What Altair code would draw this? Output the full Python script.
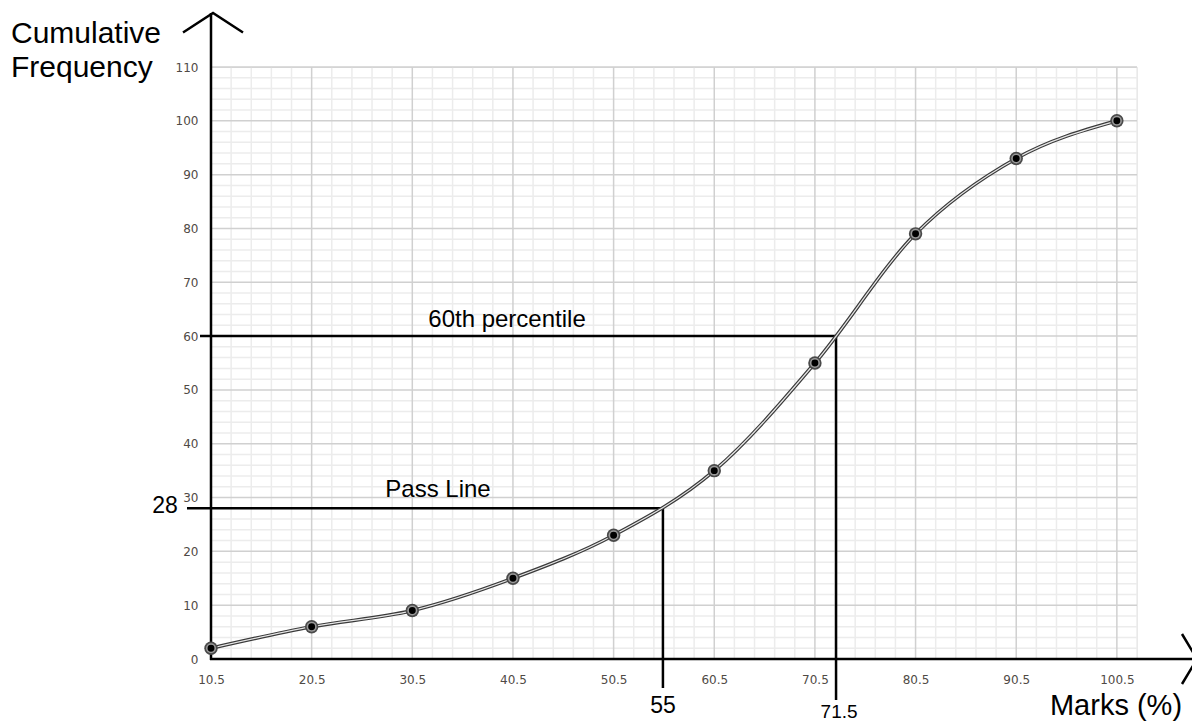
import altair as alt
import pandas as pd
import numpy as np

# ---- data ----
marks = [10.5, 20.5, 30.5, 40.5, 50.5, 60.5, 70.5, 80.5, 90.5, 100.5]
cum_freq = [2, 6, 9, 15, 23, 35, 55, 79, 93, 100]
x_ticks = [10.5, 20.5, 30.5, 40.5, 50.5, 60.5, 70.5, 80.5, 90.5, 100.5]
y_ticks = [0, 10, 20, 30, 40, 50, 60, 70, 80, 90, 100, 110]
pass_freq = 28
pass_mark = 55.4        # where the pass drop-line is drawn
pass_label = "55"
p60_freq = 60
p60_mark = 72.6         # where the 60th percentile drop-line is drawn
p60_label = "71.5"

X_DOMAIN = [10.5, 102.5]
Y_DOMAIN = [0, 110]
W, H = 926, 592

xs = alt.Scale(domain=X_DOMAIN, nice=False, zero=False)
ys = alt.Scale(domain=Y_DOMAIN, nice=False, zero=False)

AX = alt.Axis(values=x_ticks, format=".1f", domain=False, ticks=False, grid=False,
              labelFont="DejaVu Sans", labelFontSize=12, labelColor="#4f4a45",
              labelBaseline="middle", labelPadding=20, labelFlush=False, title=None)
AY = alt.Axis(values=y_ticks, format="d", domain=False, ticks=False, grid=False,
              labelFont="DejaVu Sans", labelFontSize=12, labelColor="#4f4a45",
              labelPadding=13, labelFlush=False, title=None)


def X(field=None, datum=None):
    if datum is not None:
        return alt.X(datum=datum, type="quantitative", scale=xs, axis=AX, title=None)
    return alt.X(field, type="quantitative", scale=xs, axis=AX, title=None)


def Y(field=None, datum=None):
    if datum is not None:
        return alt.Y(datum=datum, type="quantitative", scale=ys, axis=AY, title=None)
    return alt.Y(field, type="quantitative", scale=ys, axis=AY, title=None)


# ---- grid ----
major_x = list(x_ticks)
minor_x = [float(v) for v in np.arange(12.5, 102.6, 2.0) if round((v - 10.5) % 10, 6) != 0]
major_y = [v for v in y_ticks if v > 0]
minor_y = [v for v in range(2, 110, 2) if v % 10 != 0]

vgrid = pd.DataFrame({"x": minor_x + major_x,
                      "kind": ["minor"] * len(minor_x) + ["major"] * len(major_x),
                      "y0": 0, "y1": 110})
hgrid = pd.DataFrame({"y": minor_y + major_y,
                      "kind": ["minor"] * len(minor_y) + ["major"] * len(major_y),
                      "x0": 10.5, "x1": 102.5})


def grid_layers(kind, color, width):
    v = alt.Chart(vgrid[vgrid.kind == kind]).mark_rule(color=color, strokeWidth=width).encode(
        x=X("x"), y=Y("y0"), y2="y1")
    h = alt.Chart(hgrid[hgrid.kind == kind]).mark_rule(color=color, strokeWidth=width).encode(
        y=Y("y"), x=X("x0"), x2="x1")
    return [v, h]


grid = grid_layers("minor", "#ececec", 1.5) + grid_layers("major", "#d0d0d0", 1.5)

df = pd.DataFrame({"mark": marks, "cf": cum_freq})
one = pd.DataFrame({"k": [0]})

# ---- axis lines with arrow heads ----
yaxis_line = alt.Chart(one).mark_rule(color="black", strokeWidth=2.5).encode(
    x=X(datum=10.5), y=alt.value(H + 1), y2=alt.value(-54))
xaxis_line = alt.Chart(one).mark_rule(color="black", strokeWidth=2.5).encode(
    y=Y(datum=0), x=alt.value(-1), x2=alt.value(986))
y_arrow = alt.Chart(one).mark_point(
    shape="M -1 0.65 L 0 0 L 1 0.65", size=3600, filled=False, color="black",
    strokeWidth=2.5, opacity=1).encode(x=X(datum=10.7), y=alt.value(-54))
x_arrow = alt.Chart(one).mark_point(
    shape="M -0.6 -1 L 0 0 L -0.6 1", size=2500, filled=False, color="black",
    strokeWidth=2.5, opacity=1).encode(y=Y(datum=0), x=alt.value(986))

# ---- reference lines ----
ref_h = [
    alt.Chart(one).mark_rule(color="black", strokeWidth=2.5).encode(
        y=Y(datum=pass_freq), x=X(datum=pass_mark), x2=alt.value(-24)),
    alt.Chart(one).mark_rule(color="black", strokeWidth=2.5).encode(
        y=Y(datum=p60_freq), x=X(datum=p60_mark), x2=alt.value(-11)),
]
ref_v = [
    alt.Chart(one).mark_rule(color="black", strokeWidth=2.5).encode(
        x=X(datum=pass_mark), y=Y(datum=pass_freq), y2=alt.value(H + 29)),
    alt.Chart(one).mark_rule(color="black", strokeWidth=2.5).encode(
        x=X(datum=p60_mark), y=Y(datum=p60_freq), y2=alt.value(H + 41)),
]

# ---- ogive curve ----
base = alt.Chart(df).encode(x=X("mark"), y=Y("cf"))
curve_outer = base.mark_line(color="#3a3a3a", strokeWidth=3.6, interpolate="monotone")
curve_inner = base.mark_line(color="#e6e6e6", strokeWidth=1.2, interpolate="monotone")
pt_outer = base.mark_circle(color="#4a4a4a", size=180, opacity=1)
pt_mid = base.mark_circle(color="#9a9a9a", size=100, opacity=1)
pt_core = base.mark_circle(color="black", size=48, opacity=1)

# ---- annotations ----
FONT = "Liberation Sans"
txt_60 = alt.Chart(one).mark_text(text="60th percentile", font=FONT, fontSize=24, align="center",
                                  baseline="alphabetic", dy=-9, color="black").encode(
    x=alt.value(296), y=Y(datum=p60_freq))
txt_pass = alt.Chart(one).mark_text(text="Pass Line", font=FONT, fontSize=24, align="center",
                                    baseline="alphabetic", dy=-11, color="black").encode(
    x=alt.value(227), y=Y(datum=pass_freq))
txt_28 = alt.Chart(one).mark_text(text=str(pass_freq), font=FONT, fontSize=23, align="center",
                                  baseline="alphabetic", dy=5, color="black").encode(
    x=alt.value(-46), y=Y(datum=pass_freq))
txt_55 = alt.Chart(one).mark_text(text=pass_label, font=FONT, fontSize=23, align="center",
                                  baseline="alphabetic", color="black").encode(
    x=X(datum=pass_mark), y=alt.value(H + 54))
txt_715 = alt.Chart(one).mark_text(text=p60_label, font=FONT, fontSize=19, align="center",
                                   baseline="alphabetic", dx=3, color="black").encode(
    x=X(datum=p60_mark), y=alt.value(H + 59))
txt_xt = alt.Chart(one).mark_text(text="Marks (%)", font=FONT, fontSize=29, align="center",
                                  baseline="alphabetic", color="black").encode(
    x=alt.value(905), y=alt.value(H + 56))
txt_yt1 = alt.Chart(one).mark_text(text="Cumulative", font=FONT, fontSize=30, align="left",
                                   baseline="alphabetic", color="black").encode(
    x=alt.value(-200), y=alt.value(-24))
txt_yt2 = alt.Chart(one).mark_text(text="Frequency", font=FONT, fontSize=30, align="left",
                                   baseline="alphabetic", color="black").encode(
    x=alt.value(-200), y=alt.value(10))

chart = alt.layer(
    *grid, *ref_h, *ref_v, yaxis_line, xaxis_line, y_arrow, x_arrow,
    curve_outer, curve_inner, pt_outer, pt_mid, pt_core,
    txt_60, txt_pass, txt_28, txt_55, txt_715, txt_xt, txt_yt1, txt_yt2,
).properties(
    width=W, height=H, autosize="none",
    padding={"left": 203, "top": 59, "right": 55, "bottom": 64},
).configure_view(stroke=None).configure(background="white")

chart.save("out.html", embed_options={"renderer": "svg", "actions": False})
